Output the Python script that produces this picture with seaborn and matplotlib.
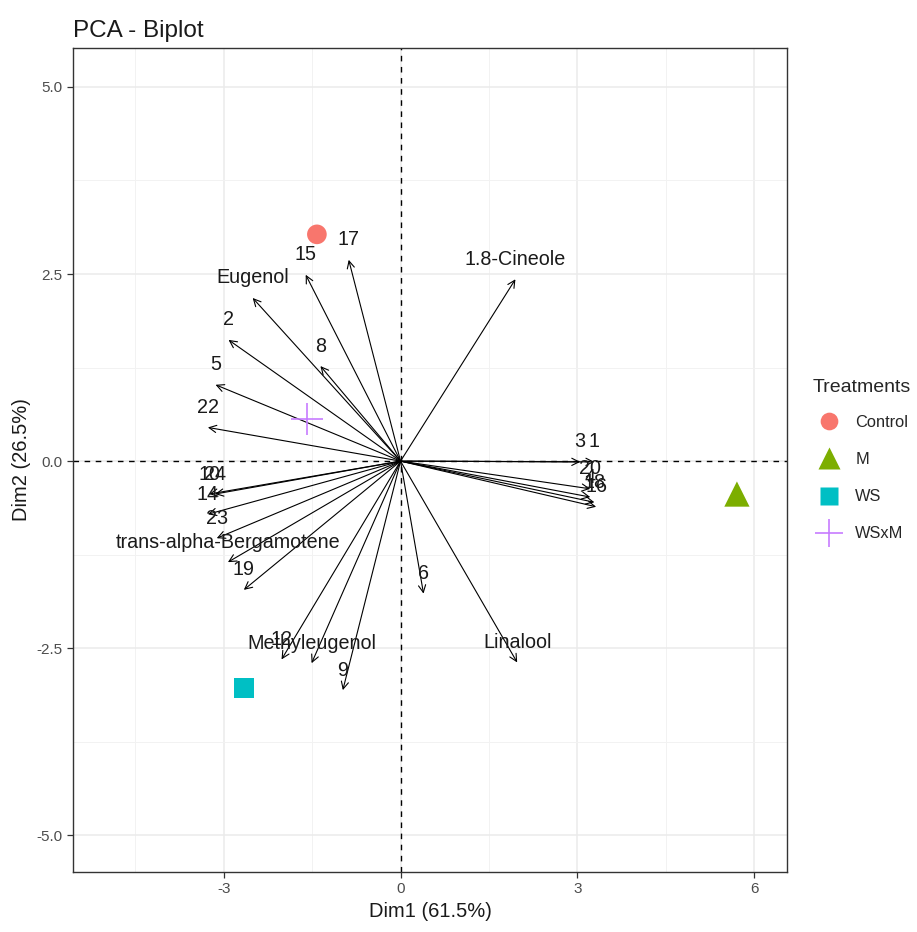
import matplotlib
matplotlib.use("Agg")
import matplotlib.pyplot as plt
from matplotlib.lines import Line2D
import seaborn as sns
import pandas as pd
import numpy as np

# ---- data ----
var_names = ["1.8-Cineole", "Eugenol", "15", "17", "2", "8", "5", "22",
             "10", "24", "14", "23", "trans-alpha-Bergamotene", "19",
             "12", "Methyleugenol", "9", "6", "Linalool",
             "3", "1", "20", "4", "18", "16"]
var_dim1 = [1.95, -2.51, -1.61, -0.88, -2.92, -1.36, -3.14, -3.27,
            -3.25, -3.15, -3.27, -3.12, -2.93, -2.66,
            -2.02, -1.51, -0.98, 0.39, 1.98,
            3.05, 3.29, 3.22, 3.22, 3.29, 3.32]
var_dim2 = [2.43, 2.18, 2.49, 2.69, 1.62, 1.27, 1.02, 0.45,
            -0.44, -0.44, -0.71, -1.03, -1.35, -1.72,
            -2.65, -2.70, -3.06, -1.77, -2.69,
            -0.01, -0.01, -0.37, -0.48, -0.55, -0.61]

treatments = ["Control", "M", "WS", "WSxM"]
ind_dim1 = [-1.42, 5.71, -2.66, -1.59]
ind_dim2 = [3.03, -0.44, -3.03, 0.56]

colors = ["#F8766D", "#7CAE00", "#00BFC4", "#C77CFF"]
markers = ["o", "^", "s", "+"]
sizes = [200, 330, 200, 500]

x_ticks = [-3, 0, 3, 6]
y_ticks = [-5.0, -2.5, 0.0, 2.5, 5.0]

# ---- figure ----
sns.set_style("white")
plt.rcParams["font.family"] = ["Liberation Sans", "DejaVu Sans"]

fig = plt.figure(figsize=(9.17, 9.32), dpi=100)
ax = fig.add_axes([73/917, 1-872/932, (787-73)/917, (872-48)/932])

ax.set_xlim(-5.56, 6.56)
ax.set_ylim(-5.49, 5.52)

# grid
ax.set_xticks(x_ticks)
ax.set_yticks(y_ticks)
ax.set_xticks([-4.5, -1.5, 1.5, 4.5], minor=True)
ax.set_yticks([-3.75, -1.25, 1.25, 3.75], minor=True)
ax.grid(True, which="major", color="#EBEBEB", lw=1.1, zorder=0)
ax.grid(True, which="minor", color="#F2F2F2", lw=0.7, zorder=0)
ax.set_axisbelow(True)
ax.set_xticklabels(["-3", "0", "3", "6"])
ax.set_yticklabels(["-5.0", "-2.5", "0.0", "2.5", "5.0"])
ax.tick_params(which="major", direction="out", length=4, width=0.9,
               color="#333333", labelcolor="#4D4D4D", labelsize=11,
               left=True, bottom=True)
ax.tick_params(which="minor", length=0)
for sp in ax.spines.values():
    sp.set_color("#333333")
    sp.set_linewidth(1.0)

# reference lines
ax.axhline(0, color="black", ls=(0, (4, 4)), lw=1.0, zorder=1)
ax.axvline(0, color="black", ls=(0, (4, 4)), lw=1.0, zorder=1)

# arrows and labels
for name, x, y in zip(var_names, var_dim1, var_dim2):
    ax.annotate("", xy=(x, y), xytext=(0, 0),
                arrowprops=dict(arrowstyle="->", lw=0.8, color="black",
                                shrinkA=0, shrinkB=0, mutation_scale=13),
                zorder=2)
    ax.annotate(name, xy=(x, y), xytext=(0, 14.4), textcoords="offset points",
                ha="center", va="center", fontsize=14.2, color="#1A1A1A",
                zorder=3)

# individual points
df = pd.DataFrame({"Dim1": ind_dim1, "Dim2": ind_dim2, "Treatments": treatments})
handles = []
for t, c, m, s in zip(treatments, colors, markers, sizes):
    sub = df[df["Treatments"] == t]
    if m == "+":
        sns.scatterplot(data=sub, x="Dim1", y="Dim2", marker=m, color=c,
                        s=s, linewidth=1.2, ax=ax, zorder=4, legend=False)
        handles.append(Line2D([], [], marker=m, color=c, ls="",
                              markersize=20, markeredgewidth=1.2, label=t))
    else:
        sns.scatterplot(data=sub, x="Dim1", y="Dim2", marker=m, color=c,
                        s=s, edgecolor="none", ax=ax, zorder=4, legend=False)
        handles.append(Line2D([], [], marker=m, color=c, ls="",
                              markeredgecolor="none",
                              markersize=np.sqrt(s) * 0.9, label=t))

ax.set_xlabel("Dim1 (61.5%)", fontsize=14.5, color="#1A1A1A", labelpad=4)
ax.set_ylabel("Dim2 (26.5%)", fontsize=14.5, color="#1A1A1A", labelpad=4)
ax.set_title("PCA - Biplot", fontsize=17.5, loc="left", color="#1A1A1A", pad=8)

leg = fig.legend(handles=handles, title="Treatments", loc="upper left",
                 bbox_to_anchor=(806/917, 1-372/932), frameon=False,
                 fontsize=11.8, title_fontsize=14, labelspacing=1.35,
                 handletextpad=0.6, borderaxespad=0)
leg._legend_box.align = "left"
leg._legend_box.sep = 14

fig.savefig("out.png", dpi=100)
